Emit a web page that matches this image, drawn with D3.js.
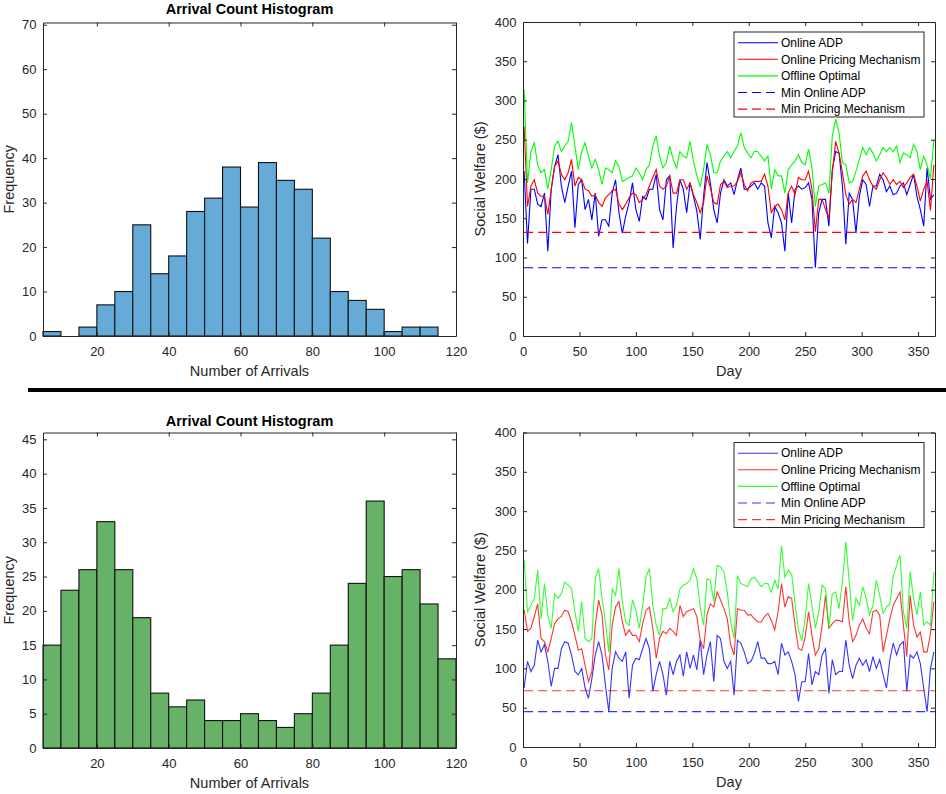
<!DOCTYPE html>
<html>
<head>
<meta charset="utf-8">
<script src="https://cdn.jsdelivr.net/npm/d3@7"></script>
<style>
  body { margin: 0; background: #fff; }
  svg { display: block; }
</style>
</head>
<body>
<div id="chart"></div>
<script>
// histogram bins: start at 5, width 5
var binStart = 5, binWidth = 5;
var countsTop = [1, 0, 2, 7, 10, 25, 14, 18, 28, 31, 38, 29, 39, 35, 33, 22, 10, 8, 6, 1, 2, 2];
var countsBottom = [15, 23, 26, 33, 26, 19, 8, 6, 7, 4, 4, 5, 4, 3, 5, 8, 15, 24, 36, 25, 26, 21, 13];
var histTicksX = [20, 40, 60, 80, 100, 120];
var histTicksTop = [0, 10, 20, 30, 40, 50, 60, 70];
var histTicksBottom = [0, 5, 10, 15, 20, 25, 30, 35, 40, 45];
var dayTicks = [0, 50, 100, 150, 200, 250, 300, 350];
var welfareTicks = [0, 50, 100, 150, 200, 250, 300, 350, 400];

// daily series read every 3rd day (day 1, 4, 7, ... 364)
var firstDay = 1, dayStep = 3;
var topADP = [
  210,118,187,187,168,165,182,108,187,216, 231,191,170,191,210,138,193,199,161,174,
  148,182,127,148,148,140,182,199,157,131, 153,170,195,161,146,178,174,187,187,206,
  161,
  148,199,204,112,165,199,187,157,195,178, 159,123,178,221,195,161,144,182,199,191,
  195,180,199,214,187,187,191,195,187,195, 191,144,125,165,157,144,108,182,144,187,
  191,
  187,189,195,174,87,157,174,174,140,212, 235,233,191,117,182,174,131,178,199,193,
  165,191,191,206,199,184,191,180,182,191, 195,180,193,206,178,161,140,214,174,180
];
var topPricing = [
  267,165,191,199,182,178,178,155,187,216, 223,206,199,208,225,191,202,199,187,185,
  178,180,170,165,176,180,185,187,168,161, 168,176,182,180,170,174,180,191,202,212,
  191,
  187,191,204,182,182,199,199,187,195,180, 170,157,170,204,189,170,168,193,197,189,
  191,191,197,208,193,185,195,197,197,197, 206,191,157,165,168,161,148,182,191,180,
  202,
  199,199,210,187,133,174,174,161,150,208, 248,233,208,180,168,174,170,187,204,210,
  199,191,187,199,208,202,193,199,193,197, 189,195,202,206,191,172,187,197,160,218
];
var topOptimal = [
  314,195,235,246,218,208,212,187,212,242, 248,235,242,248,272,242,212,235,246,229,
  214,225,212,193,214,212,208,223,216,197, 199,202,204,214,208,199,212,218,242,255,
  229,
  214,221,242,225,214,235,229,227,248,223, 204,191,212,244,231,208,208,223,229,235,
  227,235,242,259,240,233,227,235,235,229, 223,229,187,212,204,204,182,212,218,223,
  231,
  221,218,238,214,165,191,193,195,182,255, 276,259,221,218,195,197,210,225,240,231,
  240,233,223,231,240,235,240,235,242,221, 233,231,227,244,235,212,229,218,200,250
];
var topMinADP = 87, topMinPricing = 132;

var bottomADP = [
  75,109,96,104,136,121,130,109,77,100, 100,125,134,132,117,96,92,100,75,62,
  87,117,134,117,79,45,100,121,113,109, 121,62,104,113,111,125,138,125,71,92,
  109,
  92,66,109,92,109,117,90,121,100,117, 98,136,92,117,134,83,142,138,109,100,
  109,66,136,132,121,106,109,119,134,113, 113,106,106,109,92,132,117,121,109,92,
  58,
  83,83,119,79,96,92,117,125,68,111, 92,96,96,136,104,87,104,113,104,111,
  96,115,100,111,92,75,111,132,117,130, 134,71,117,113,121,106,75,45,100,121
];
var bottomPricing = [
  175,147,151,166,182,138,134,121,138,157, 163,166,174,172,159,142,123,125,104,83,
  96,155,187,168,117,98,155,178,185,159, 142,149,142,142,134,157,174,178,151,113,
  138,
  147,144,151,147,142,180,166,172,174,176, 166,136,125,168,182,178,197,187,176,163,
  130,117,176,174,174,168,168,163,159,159, 166,170,161,149,172,208,178,191,189,155,
  125,
  123,140,172,142,117,125,155,193,151,157, 161,161,159,204,159,134,142,155,163,151,
  144,172,174,168,121,142,163,180,189,197, 155,115,193,155,140,146,121,121,144,185
];
var bottomOptimal = [
  238,172,180,189,225,163,208,168,151,195, 189,195,210,206,201,172,147,185,138,134,
  138,214,227,189,159,121,201,193,227,185, 159,155,187,174,151,180,216,227,180,155,
  142,
  176,176,189,172,180,201,206,208,212,227, 214,178,155,214,212,185,231,229,223,197,
  159,138,218,208,206,204,214,216,210,204, 208,208,197,212,201,256,216,225,220,182,
  149,
  135,163,208,180,151,172,206,201,151,195, 197,176,210,261,210,161,189,180,204,189,
  168,180,212,193,170,178,182,218,231,244, 172,151,223,189,168,197,155,159,155,223
];
var bottomMinADP = 45, bottomMinPricing = 71.5;

var legendNames = ['Online ADP', 'Online Pricing Mechanism', 'Offline Optimal', 'Min Online ADP', 'Min Pricing Mechanism'];

var FONT = '"Liberation Sans", Arial, Helvetica, sans-serif';
var AXIS = '#262626';

var svg = d3.select('#chart').append('svg')
  .attr('width', 946)
  .attr('height', 794)
  .attr('font-family', FONT);

// matlab style box with inner ticks on all four sides
function drawAxes(box, x, y, xTicks, yTicks) {
  var w = box.right - box.left, h = box.bottom - box.top;
  var g = svg.append('g').attr('transform', 'translate(' + box.left + ',' + box.top + ')');
  var axes = [
    g.append('g').attr('transform', 'translate(0,' + h + ')')
      .call(d3.axisBottom(x).tickValues(xTicks).tickSizeInner(-4).tickSizeOuter(0).tickPadding(10.5)),
    g.append('g')
      .call(d3.axisTop(x).tickValues(xTicks).tickSizeInner(-4).tickSizeOuter(0).tickFormat('')),
    g.append('g')
      .call(d3.axisLeft(y).tickValues(yTicks).tickSizeInner(-4).tickSizeOuter(0).tickPadding(6.5)),
    g.append('g').attr('transform', 'translate(' + w + ',0)')
      .call(d3.axisRight(y).tickValues(yTicks).tickSizeInner(-4).tickSizeOuter(0).tickFormat(''))
  ];
  axes.forEach(function(a) {
    a.attr('font-family', FONT).attr('font-size', 13);
    a.selectAll('path, line').attr('stroke', AXIS).attr('stroke-width', 1);
    a.selectAll('text').attr('fill', AXIS);
  });
  return g;
}

function axisLabels(box, xLabel, yLabel, yLabelX) {
  svg.append('text')
    .attr('x', (box.left + box.right) / 2)
    .attr('y', box.bottom + 40)
    .attr('text-anchor', 'middle')
    .attr('font-size', 14.5)
    .attr('fill', AXIS)
    .text(xLabel);
  svg.append('text')
    .attr('transform', 'translate(' + yLabelX + ',' + (box.top + box.bottom) / 2 + ') rotate(-90)')
    .attr('text-anchor', 'middle')
    .attr('font-size', 14.5)
    .attr('fill', AXIS)
    .text(yLabel);
}

function drawHistogram(box, counts, yMax, yTicks, fill, titleY) {
  var x = d3.scaleLinear().domain([5, 120]).range([0, box.right - box.left]);
  var y = d3.scaleLinear().domain([0, yMax]).range([box.bottom - box.top, 0]);
  var g = svg.append('g').attr('transform', 'translate(' + box.left + ',' + box.top + ')');
  g.selectAll('rect.bar')
    .data(counts)
    .enter()
    .append('rect')
    .attr('class', 'bar')
    .attr('x', function(d, i) { return x(binStart + i * binWidth); })
    .attr('width', function(d, i) { return x(binStart + (i + 1) * binWidth) - x(binStart + i * binWidth); })
    .attr('y', function(d) { return y(d); })
    .attr('height', function(d) { return y(0) - y(d); })
    .style('fill', fill)
    .style('stroke', '#111')
    .style('stroke-width', 1.1);
  drawAxes(box, x, y, histTicksX, yTicks);
  svg.append('text')
    .attr('x', (box.left + box.right) / 2)
    .attr('y', titleY)
    .attr('text-anchor', 'middle')
    .attr('font-size', 14.5)
    .attr('font-weight', 'bold')
    .attr('fill', '#000')
    .text('Arrival Count Histogram');
  axisLabels(box, 'Number of Arrivals', 'Frequency', 13.5);
}

function drawWelfare(box, adp, pricing, optimal, minADP, minPricing, fade) {
  var x = d3.scaleLinear().domain([0, 365]).range([0, box.right - box.left]);
  var y = d3.scaleLinear().domain([0, 400]).range([box.bottom - box.top, 0]);
  var g = svg.append('g').attr('transform', 'translate(' + box.left + ',' + box.top + ')');
  var line = d3.line()
    .x(function(d, i) { return x(firstDay + i * dayStep); })
    .y(function(d) { return y(d); });
  var flat = d3.line()
    .x(function(d) { return x(d[0]); })
    .y(function(d) { return y(d[1]); });
  var series = [
    {values: adp, color: '#0000ff'},
    {values: pricing, color: '#ff0000'},
    {values: optimal, color: '#00ff00'}
  ];
  series.forEach(function(s) {
    g.append('path')
      .datum(s.values)
      .attr('d', line)
      .style('fill', 'none')
      .style('stroke', s.color)
      .style('stroke-opacity', fade)
      .style('stroke-width', 1.1);
  });
  // minimum lines, dashed
  [{v: minADP, color: '#0000ff'}, {v: minPricing, color: '#ff0000'}].forEach(function(m) {
    g.append('path')
      .datum([[1, m.v], [365, m.v]])
      .attr('d', flat)
      .style('fill', 'none')
      .style('stroke', m.color)
      .style('stroke-opacity', fade)
      .style('stroke-width', 1.1)
      .style('stroke-dasharray', '9,5');
  });
  drawAxes(box, x, y, dayTicks, welfareTicks);
  axisLabels(box, 'Day', 'Social Welfare ($)', box.left - 38);

  // legend
  var lx = box.right - 201, ly = box.top + 10;
  var lg = svg.append('g').attr('transform', 'translate(' + lx + ',' + ly + ')');
  lg.append('rect')
    .attr('width', 190).attr('height', 85)
    .style('fill', '#fff').style('stroke', AXIS).style('stroke-width', 1);
  var styles = [
    {color: '#0000ff', dash: null}, {color: '#ff0000', dash: null}, {color: '#00ff00', dash: null},
    {color: '#0000ff', dash: '9,5'}, {color: '#ff0000', dash: '9,5'}
  ];
  legendNames.forEach(function(name, i) {
    var ry = 10.7 + i * 16.6;
    lg.append('line')
      .attr('x1', 4).attr('x2', 44).attr('y1', ry).attr('y2', ry)
      .style('stroke', styles[i].color)
      .style('stroke-opacity', fade)
      .style('stroke-width', 1.1)
      .style('stroke-dasharray', styles[i].dash);
    lg.append('text')
      .attr('x', 47).attr('y', ry).attr('dy', '0.35em')
      .attr('font-size', 12)
      .attr('fill', '#000')
      .text(name);
  });
}

drawHistogram({left: 43, right: 456, top: 22.5, bottom: 336}, countsTop, 70.5, histTicksTop, '#66aad7', 13.7);
drawWelfare({left: 523, right: 935, top: 22, bottom: 336}, topADP, topPricing, topOptimal, topMinADP, topMinPricing, 1);
drawHistogram({left: 43, right: 456, top: 432.5, bottom: 748}, countsBottom, 46, histTicksBottom, '#66b266', 425.5);
drawWelfare({left: 523, right: 935, top: 432.5, bottom: 747}, bottomADP, bottomPricing, bottomOptimal, bottomMinADP, bottomMinPricing, 0.8);

// thick separator between the two rows
svg.append('rect')
  .attr('x', 28).attr('y', 388).attr('width', 918).attr('height', 4)
  .style('fill', '#000');
</script>
</body>
</html>
